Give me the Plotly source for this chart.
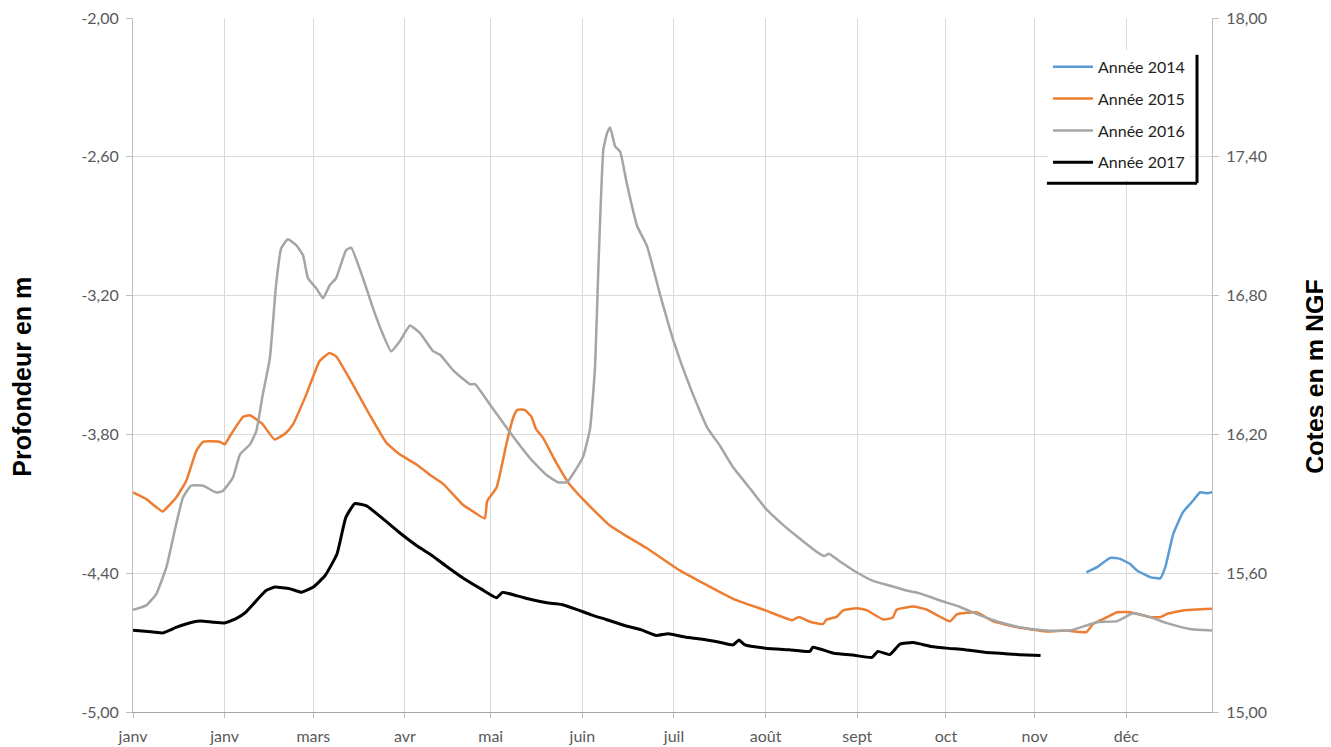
import plotly.graph_objects as go

# ---- data (day of year, depth in m) ----
days_2014 = [322.5, 326.1, 330.5, 333.9, 337.3, 339.6, 344.1, 347.5, 349.2, 351.9, 355.2, 358.6, 361, 363.1, 365]
vals_2014 = [-4.396, -4.374, -4.334, -4.338, -4.360, -4.388, -4.417, -4.422, -4.374, -4.230, -4.136, -4.086, -4.050, -4.054, -4.050]

days_2015 = [0, 4.5, 10, 11.5, 14.6, 18, 21.4, 23.7, 29.4, 31, 32.8, 37.2, 39.6, 41.7, 43.9, 47.9, 51.8, 54.1,
             58.6, 63.1, 66.5, 68.7, 74.4, 80, 85.7, 90.2, 95.8, 101, 104.9, 111.6, 115, 119, 119.8, 123, 126.4,
             128.5, 130, 132.5, 134.8, 136.3, 138.6, 143.3, 147.6, 153.4, 161.2, 165.7, 173.6, 184.8, 191.8, 203,
             214, 223, 225.3, 229, 233.4, 234.6, 238, 240.2, 244.9, 248.3, 253.8, 257, 258.3, 264, 268.6, 276.4,
             278.7, 285.3, 290.8, 298.8, 309, 315.8, 322.5, 324.8, 329.5, 332.9, 337.3, 344.1, 347.5, 349.8, 355.2, 365]
vals_2015 = [-4.051, -4.080, -4.133, -4.116, -4.073, -4.001, -3.872, -3.832, -3.832, -3.843, -3.807, -3.725, -3.717,
             -3.735, -3.757, -3.822, -3.793, -3.757, -3.628, -3.484, -3.448, -3.463, -3.585, -3.714, -3.836, -3.886,
             -3.929, -3.980, -4.014, -4.104, -4.133, -4.163, -4.089, -4.029, -3.836, -3.731, -3.694, -3.694, -3.724,
             -3.776, -3.813, -3.925, -4.014, -4.096, -4.193, -4.230, -4.290, -4.387, -4.436, -4.511, -4.561, -4.603,
             -4.589, -4.610, -4.620, -4.600, -4.589, -4.561, -4.551, -4.561, -4.600, -4.592, -4.558, -4.544, -4.558,
             -4.608, -4.578, -4.569, -4.607, -4.633, -4.652, -4.648, -4.655, -4.619, -4.590, -4.569, -4.569, -4.590,
             -4.590, -4.576, -4.561, -4.554]

days_2016 = [0, 4.5, 7.9, 11.3, 14.6, 16.9, 19.6, 23.7, 28.1, 30.4, 33.8, 36.2, 39.6, 41.7, 43.9, 46.3, 48.4, 50.1,
             52.4, 55.2, 57.5, 59.2, 62, 64.3, 66.6, 68.7, 72.1, 73.8, 77.8, 81.2, 84.6, 87.3, 90.2, 93.7, 97.1,
             101.5, 103.9, 108.3, 114, 115.7, 120.8, 127.5, 134.3, 140, 143.8, 146.8, 148.9, 152.3, 154.6, 156.3,
             157.4, 159.1, 160.4, 161.4, 163.1, 164.8, 167.1, 170.5, 173.9, 178.3, 182.7, 188.5, 194.2, 198.6, 203,
             208.8, 214, 219.9, 225.3, 231, 233.8, 235.4, 238.9, 244.9, 250.3, 256.1, 261.8, 266.2, 273, 279.8,
             285.3, 293.3, 301, 309, 316.9, 322.5, 326.1, 332.9, 338.3, 344.1, 349.8, 357.6, 365]
vals_2016 = [-4.558, -4.539, -4.489, -4.374, -4.188, -4.073, -4.022, -4.022, -4.051, -4.044, -3.987, -3.886, -3.843,
             -3.786, -3.628, -3.470, -3.154, -2.996, -2.956, -2.982, -3.025, -3.125, -3.168, -3.211, -3.154, -3.125,
             -3.003, -2.993, -3.125, -3.255, -3.369, -3.441, -3.398, -3.329, -3.362, -3.440, -3.456, -3.523, -3.583,
             -3.583, -3.672, -3.791, -3.903, -3.977, -4.007, -4.007, -3.970, -3.895, -3.776, -3.508, -3.091, -2.570,
             -2.496, -2.473, -2.555, -2.578, -2.719, -2.898, -2.987, -3.196, -3.390, -3.598, -3.770, -3.850, -3.942,
             -4.035, -4.120, -4.191, -4.248, -4.305, -4.326, -4.316, -4.347, -4.397, -4.433, -4.454, -4.475, -4.487,
             -4.518, -4.546, -4.576, -4.612, -4.636, -4.648, -4.648, -4.626, -4.612, -4.607, -4.573, -4.590, -4.616,
             -4.641, -4.648]

days_2017 = [0, 5, 10, 15, 20, 23, 27, 31, 35, 38, 42, 45, 48, 53, 57, 61, 65, 69, 72, 75, 79, 84, 90, 96, 101,
             106, 112, 118, 123, 125, 130, 135, 140, 145, 150, 155, 160, 166, 172, 177, 181, 187, 192, 198, 203, 205,
             207, 214, 222, 229, 230, 237, 244, 250, 252, 256, 259.5, 264, 270, 276, 281, 288, 295, 300, 307]
vals_2017 = [-4.647, -4.652, -4.658, -4.632, -4.612, -4.607, -4.612, -4.615, -4.595, -4.570, -4.515, -4.475, -4.460,
             -4.467, -4.482, -4.460, -4.410, -4.317, -4.159, -4.099, -4.109, -4.159, -4.223, -4.281, -4.322, -4.370,
             -4.424, -4.470, -4.506, -4.483, -4.498, -4.515, -4.528, -4.535, -4.556, -4.580, -4.600, -4.625, -4.645,
             -4.669, -4.662, -4.677, -4.684, -4.697, -4.710, -4.689, -4.710, -4.724, -4.731, -4.738, -4.720, -4.746,
             -4.755, -4.764, -4.738, -4.752, -4.706, -4.700, -4.717, -4.725, -4.730, -4.742, -4.748, -4.752, -4.756]

month_ticks = [0, 31, 61, 92, 121, 152, 183, 214, 245, 275, 305, 336]
month_labels = ["janv", "janv", "mars", "avr", "mai", "juin", "juil", "août", "sept", "oct", "nov", "déc"]

left_ticks = [-5.0, -4.4, -3.8, -3.2, -2.6, -2.0]
left_labels = ["-5,00", "-4,40", "-3,80", "-3,20", "-2,60", "-2,00"]
right_ticks = [15.0, 15.6, 16.2, 16.8, 17.4, 18.0]
right_labels = ["15,00", "15,60", "16,20", "16,80", "17,40", "18,00"]

series = [
    ("Année 2014", days_2014, vals_2014, "#5B9BD5", 2.5),
    ("Année 2015", days_2015, vals_2015, "#ED7D31", 2.5),
    ("Année 2016", days_2016, vals_2016, "#A5A5A5", 2.5),
    ("Année 2017", days_2017, vals_2017, "#000000", 3),
]

fig = go.Figure()
for name, d, v, c, w in series:
    fig.add_trace(go.Scatter(x=d, y=v, mode="lines", name=name, legendgroup=name,
                             line=dict(color=c, width=w, shape="spline", smoothing=0.4)))

# empty trace attached to the secondary axis so that it is drawn
fig.add_trace(go.Scatter(x=[None], y=[None], yaxis="y2", mode="lines", showlegend=False, hoverinfo="skip"))

tick_font = dict(family="Lato, Open Sans, sans-serif", size=16, color="#595959")
title_font = dict(family="Liberation Sans, Arial, sans-serif", size=25, color="black")

fig.update_layout(
    width=1323, height=739,
    margin=dict(l=125, r=119, t=10, b=35),
    paper_bgcolor="white", plot_bgcolor="white",
    showlegend=True,
    legend=dict(x=0.848, y=0.954, xanchor="left", yanchor="top", bgcolor="white",
                borderwidth=0, font=dict(family="Lato, Open Sans, sans-serif", size=16, color="#222222"),
                tracegroupgap=8, itemwidth=40),
    xaxis=dict(range=[0, 365], tickmode="array", tickvals=month_ticks, ticktext=month_labels,
               showgrid=True, gridcolor="#d9d9d9", gridwidth=1, showline=True, linecolor="#a6a6a6",
               ticks="outside", ticklen=5, tickcolor="#bfbfbf", tickfont=tick_font, zeroline=False,
               automargin=False, ticklabelstandoff=5, ticklabeloverflow="allow"),
    yaxis=dict(range=[-5, -2], tickmode="array", tickvals=left_ticks, ticktext=left_labels,
               showgrid=False, showline=True, linecolor="#bfbfbf", ticks="outside", ticklen=6,
               tickcolor="#bfbfbf", tickfont=tick_font, zeroline=False, automargin=False,
               ticklabelstandoff=4, ticklabeloverflow="allow",
               minor=dict(tickmode="array", tickvals=[-4.4, -3.8, -3.2, -2.6], showgrid=True,
                          gridcolor="#d9d9d9", gridwidth=1, ticks="")),
    yaxis2=dict(range=[15, 18], overlaying="y", side="right", tickmode="array", tickvals=right_ticks,
                ticktext=right_labels, showgrid=False, showline=True, linecolor="#bfbfbf",
                ticks="outside", ticklen=6, tickcolor="#bfbfbf", tickfont=tick_font, zeroline=False,
                automargin=False, ticklabelstandoff=4, ticklabeloverflow="allow"),
    annotations=[
        dict(text="<b>Profondeur en m</b>", xref="paper", yref="paper", x=-0.1029, y=0.483,
             xanchor="center", yanchor="middle",
             textangle=-90, showarrow=False, font=title_font),
        dict(text="<b>Cotes en m NGF</b>", xref="paper", yref="paper", x=1.0954, y=0.483,
             xanchor="center", yanchor="middle",
             textangle=-90, showarrow=False, font=title_font),
    ],
    shapes=[
        dict(type="line", xref="paper", yref="paper", x0=0.9861, x1=0.9861, y0=0.947, y1=0.762,
             line=dict(color="black", width=3)),
        dict(type="line", xref="paper", yref="paper", x0=0.847, x1=0.9861, y0=0.762, y1=0.762,
             line=dict(color="black", width=3)),
    ],
)

fig.write_html("out.html")
